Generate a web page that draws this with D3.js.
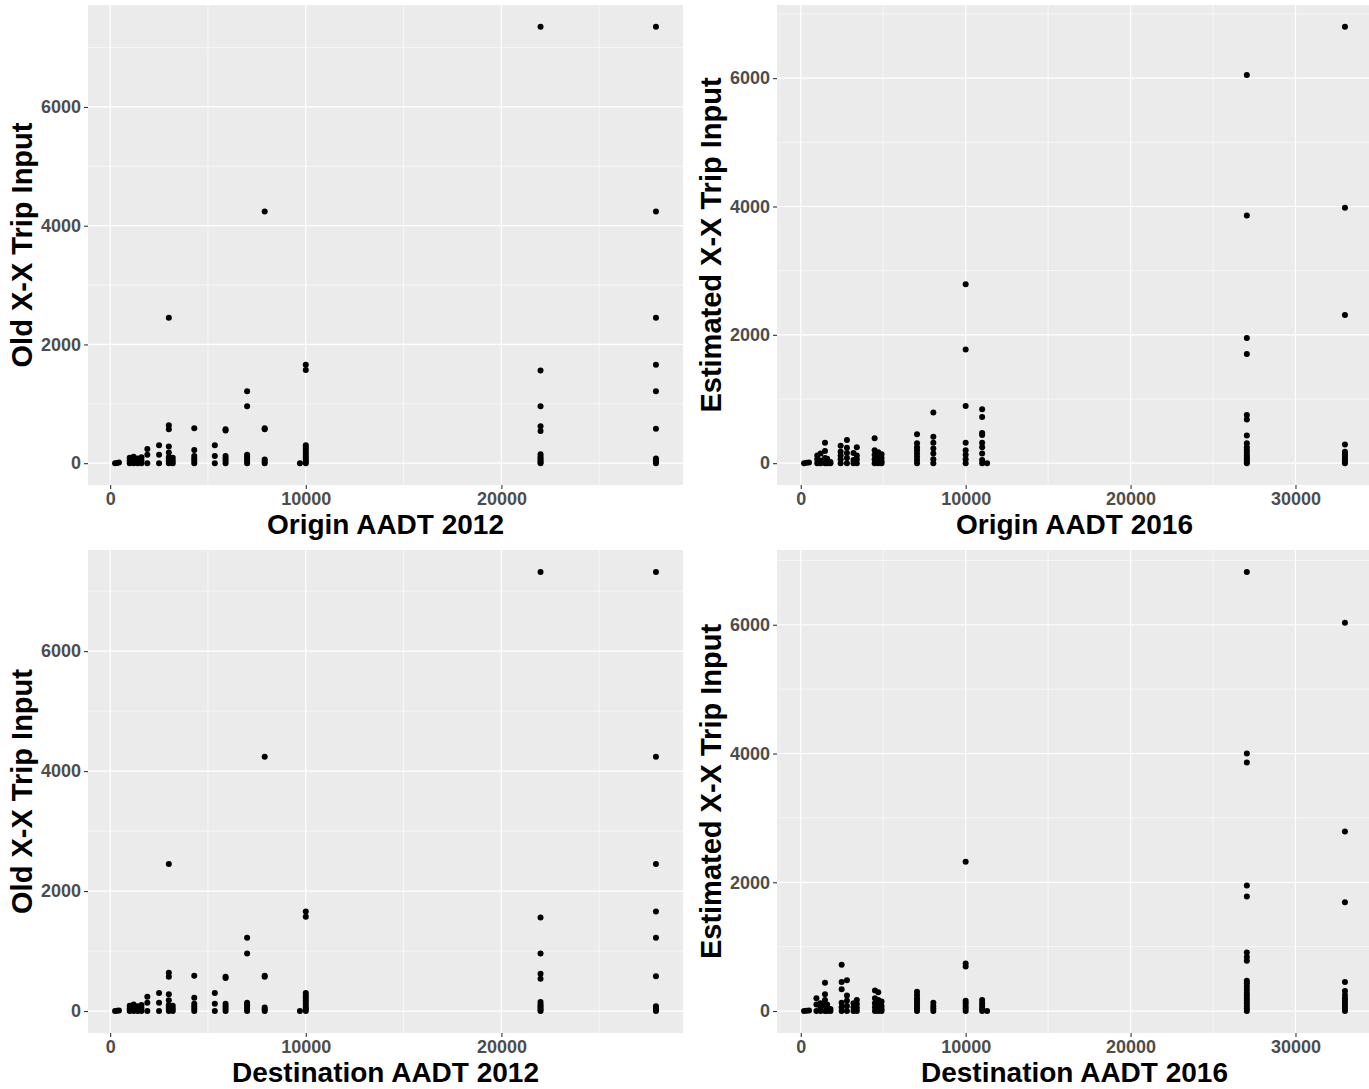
<!DOCTYPE html>
<html>
<head>
<meta charset="utf-8">
<script src="https://cdn.jsdelivr.net/npm/d3@7"></script>
<style>
  html, body { margin: 0; padding: 0; background: #ffffff; overflow: hidden; }
  svg text { font-family: "Liberation Sans", Arial, sans-serif; font-weight: bold; }
</style>
</head>
<body>
<script>
// Origin AADT 2012 vs old X-X trip input: [AADT, trips]
const origin2012Points = [
  [250,0],[350,5],[450,10],
  [1000,0],[1000,40],[1000,90],
  [1200,0],[1200,60],[1200,110],
  [1400,0],[1400,30],[1400,80],
  [1600,0],[1600,50],[1600,100],
  [1900,0],[1900,140],[1900,240],
  [2500,0],[2500,140],[2500,300],
  [3000,0],[3000,20],[3000,50],[3000,80],[3000,100],[3000,180],[3000,280],[3000,570],[3000,640],[3000,2450],
  [3200,0],[3200,40],[3200,90],
  [4300,0],[4300,40],[4300,80],[4300,120],[4300,220],[4300,590],
  [5350,0],[5350,120],[5350,300],
  [5900,0],[5900,40],[5900,80],[5900,120],[5900,550],[5900,570],
  [7000,0],[7000,40],[7000,80],[7000,110],[7000,140],[7000,960],[7000,1210],
  [7900,0],[7900,30],[7900,60],[7900,570],[7900,590],[7900,4240],
  [9700,0],
  [10000,0],[10000,30],[10000,60],[10000,100],[10000,140],[10000,180],[10000,220],[10000,260],[10000,300],[10000,1570],[10000,1660],
  [22000,0],[22000,20],[22000,50],[22000,80],[22000,110],[22000,150],[22000,540],[22000,620],[22000,960],[22000,1560],[22000,7350],
  [27900,0],[27900,20],[27900,50],[27900,80],[27900,580],[27900,1210],[27900,1660],[27900,2450],[27900,4240],[27900,7350]
];

// Origin AADT 2016 vs estimated X-X trip input
const origin2016Points = [
  [200,0],[350,5],[500,10],
  [1000,0],[1000,60],[1000,120],
  [1200,0],[1200,40],[1200,150],
  [1470,0],[1470,80],[1470,190],[1470,320],
  [1600,0],[1600,30],[1600,70],
  [1800,0],[1800,20],
  [2420,0],[2420,60],[2420,120],[2420,180],[2420,270],
  [2800,0],[2800,80],[2800,160],[2800,240],[2800,360],
  [3200,0],[3200,50],[3200,160],
  [3400,0],[3400,60],[3400,120],[3400,250],
  [4480,0],[4480,60],[4480,130],[4480,200],[4480,390],
  [4700,0],[4700,40],[4700,100],[4700,170],
  [4900,0],[4900,30],[4900,80],[4900,140],
  [7050,0],[7050,50],[7050,100],[7050,150],[7050,200],[7050,250],[7050,310],[7050,450],
  [8040,0],[8040,60],[8040,150],[8040,230],[8040,320],[8040,410],[8040,790],
  [10000,0],[10000,60],[10000,130],[10000,200],[10000,320],[10000,890],[10000,1770],[10000,2790],
  [11000,0],[11000,50],[11000,150],[11000,250],[11000,320],[11000,440],[11000,470],[11000,720],[11000,840],
  [11300,0],
  [27050,0],[27050,30],[27050,60],[27050,90],[27050,120],[27050,160],[27050,200],[27050,250],[27050,310],[27050,430],[27050,680],[27050,750],[27050,1700],[27050,1950],[27050,3860],[27050,6050],
  [33000,0],[33000,30],[33000,60],[33000,100],[33000,140],[33000,180],[33000,290],[33000,2310],[33000,3980],[33000,6800]
];

// Destination AADT 2012 vs old X-X trip input
const destination2012Points = [
  [250,0],[350,5],[450,10],
  [1000,0],[1000,40],[1000,90],
  [1200,0],[1200,60],[1200,110],
  [1400,0],[1400,30],[1400,80],
  [1600,0],[1600,50],[1600,100],
  [1900,0],[1900,140],[1900,240],
  [2500,0],[2500,140],[2500,300],
  [3000,0],[3000,20],[3000,50],[3000,80],[3000,100],[3000,180],[3000,280],[3000,570],[3000,640],[3000,2450],
  [3200,0],[3200,40],[3200,90],
  [4300,0],[4300,40],[4300,80],[4300,120],[4300,220],[4300,590],
  [5350,0],[5350,120],[5350,300],
  [5900,0],[5900,40],[5900,80],[5900,120],[5900,550],[5900,570],
  [7000,0],[7000,40],[7000,80],[7000,110],[7000,140],[7000,960],[7000,1220],
  [7900,0],[7900,30],[7900,60],[7900,570],[7900,590],[7900,4240],
  [9700,0],
  [10000,0],[10000,30],[10000,60],[10000,100],[10000,140],[10000,180],[10000,220],[10000,260],[10000,300],[10000,1570],[10000,1660],
  [22000,0],[22000,20],[22000,50],[22000,80],[22000,110],[22000,150],[22000,540],[22000,620],[22000,960],[22000,1560],[22000,7320],
  [27900,0],[27900,20],[27900,50],[27900,80],[27900,580],[27900,1220],[27900,1660],[27900,2450],[27900,4240],[27900,7320]
];

// Destination AADT 2016 vs estimated X-X trip input
const destination2016Points = [
  [200,0],[350,5],[500,10],
  [950,0],[950,100],[950,200],
  [1200,0],[1200,60],[1200,120],
  [1470,0],[1470,90],[1470,170],[1470,260],[1470,440],
  [1600,0],[1600,40],[1600,100],
  [1800,0],[1800,30],
  [2480,0],[2480,60],[2480,130],[2480,340],[2480,450],[2480,720],
  [2800,0],[2800,80],[2800,160],[2800,240],[2800,480],
  [3200,0],[3200,60],[3200,120],
  [3400,0],[3400,50],[3400,110],[3400,170],
  [4500,0],[4500,60],[4500,120],[4500,200],[4500,320],
  [4700,0],[4700,40],[4700,100],[4700,170],[4700,290],
  [4900,0],[4900,30],[4900,80],[4900,150],
  [7050,0],[7050,40],[7050,80],[7050,120],[7050,160],[7050,200],[7050,250],[7050,300],
  [8040,0],[8040,40],[8040,80],[8040,130],
  [10000,0],[10000,40],[10000,80],[10000,120],[10000,160],[10000,690],[10000,740],[10000,2320],
  [11000,0],[11000,40],[11000,80],[11000,120],[11000,170],
  [11300,0],
  [27050,0],[27050,40],[27050,80],[27050,120],[27050,160],[27050,200],[27050,240],[27050,280],[27050,330],[27050,380],[27050,430],[27050,470],[27050,780],[27050,840],[27050,910],[27050,1780],[27050,1950],[27050,3860],[27050,4000],[27050,6820],
  [33000,0],[33000,40],[33000,80],[33000,120],[33000,160],[33000,200],[33000,250],[33000,310],[33000,450],[33000,1690],[33000,2790],[33000,6030]
];

// Axis breaks
const xTicks2012 = [0, 10000, 20000];
const xMinor2012 = [5000, 15000, 25000];
const xTicks2016 = [0, 10000, 20000, 30000];
const xMinor2016 = [5000, 15000, 25000];
const yTicks = [0, 2000, 4000, 6000];
const yMinor = [1000, 3000, 5000, 7000];

const W = 1369, H = 1089;
const svg = d3.select("body").append("svg")
  .attr("width", W).attr("height", H);

// Right-hand panels run slightly past the page edge and are clipped
const panels = [
  { pts: origin2012Points, xTitle: "Origin AADT 2012", yTitle: "Old X-X Trip Input",
    xTicks: xTicks2012, xMinor: xMinor2012, box: { l: 88, t: 5, r: 683, b: 485 } },
  { pts: origin2016Points, xTitle: "Origin AADT 2016", yTitle: "Estimated X-X Trip Input",
    xTicks: xTicks2016, xMinor: xMinor2016, box: { l: 777, t: 5, r: 1372, b: 485 } },
  { pts: destination2012Points, xTitle: "Destination AADT 2012", yTitle: "Old X-X Trip Input",
    xTicks: xTicks2012, xMinor: xMinor2012, box: { l: 88, t: 550, r: 683, b: 1033 } },
  { pts: destination2016Points, xTitle: "Destination AADT 2016", yTitle: "Estimated X-X Trip Input",
    xTicks: xTicks2016, xMinor: xMinor2016, box: { l: 777, t: 550, r: 1372, b: 1033 } }
];

// 5% padding on both sides of the data range
function expand([lo, hi]) {
  const pad = (hi - lo) * 0.05;
  return [lo - pad, hi + pad];
}

panels.forEach(p => {
  const b = p.box;
  const x = d3.scaleLinear().domain(expand(d3.extent(p.pts, d => d[0]))).range([b.l, b.r]);
  const y = d3.scaleLinear().domain(expand(d3.extent(p.pts, d => d[1]))).range([b.b, b.t]);
  const g = svg.append("g");

  g.append("rect")
    .attr("x", b.l).attr("y", b.t)
    .attr("width", b.r - b.l).attr("height", b.b - b.t)
    .attr("fill", "#EBEBEB");

  const inX = v => { const px = x(v); return px >= b.l && px <= b.r; };
  const inY = v => { const py = y(v); return py >= b.t && py <= b.b; };

  // minor grid
  g.selectAll(".vminor").data(p.xMinor.filter(inX)).join("line")
    .attr("x1", d => x(d)).attr("x2", d => x(d))
    .attr("y1", b.t).attr("y2", b.b)
    .attr("stroke", "#ffffff").attr("stroke-width", 0.6);
  g.selectAll(".hminor").data(yMinor.filter(inY)).join("line")
    .attr("y1", d => y(d)).attr("y2", d => y(d))
    .attr("x1", b.l).attr("x2", b.r)
    .attr("stroke", "#ffffff").attr("stroke-width", 0.6);

  // major grid
  g.selectAll(".vmajor").data(p.xTicks).join("line")
    .attr("x1", d => x(d)).attr("x2", d => x(d))
    .attr("y1", b.t).attr("y2", b.b)
    .attr("stroke", "#ffffff").attr("stroke-width", 1.2);
  g.selectAll(".hmajor").data(yTicks).join("line")
    .attr("y1", d => y(d)).attr("y2", d => y(d))
    .attr("x1", b.l).attr("x2", b.r)
    .attr("stroke", "#ffffff").attr("stroke-width", 1.2);

  // points
  g.selectAll("circle").data(p.pts).join("circle")
    .attr("cx", d => x(d[0])).attr("cy", d => y(d[1]))
    .attr("r", 3).attr("fill", "#000000");

  // axes
  const xAxis = g.append("g")
    .attr("transform", `translate(0,${b.b})`)
    .call(d3.axisBottom(x).tickValues(p.xTicks).tickFormat(d3.format("d")).tickSize(4).tickPadding(3));
  const yAxis = g.append("g")
    .attr("transform", `translate(${b.l},0)`)
    .call(d3.axisLeft(y).tickValues(yTicks).tickFormat(d3.format("d")).tickSize(4).tickPadding(3));
  [xAxis, yAxis].forEach(a => {
    a.select(".domain").remove();
    a.selectAll(".tick line").attr("stroke", "#333333").attr("stroke-width", 1.1);
    a.selectAll(".tick text")
      .attr("fill", "#4D4D4D")
      .style("font-size", "18px")
      .style("font-weight", "bold")
      .style("font-family", '"Liberation Sans", Arial, sans-serif');
  });

  // axis titles
  g.append("text")
    .attr("x", (b.l + b.r) / 2).attr("y", b.b + 49)
    .attr("text-anchor", "middle")
    .attr("fill", "#000000")
    .style("font-size", "28px")
    .text(p.xTitle);
  g.append("text")
    .attr("transform", `translate(${b.l - 56},${(b.t + b.b) / 2}) rotate(-90)`)
    .attr("text-anchor", "middle")
    .attr("fill", "#000000")
    .style("font-size", "29px")
    .text(p.yTitle);
});
</script>
</body>
</html>
